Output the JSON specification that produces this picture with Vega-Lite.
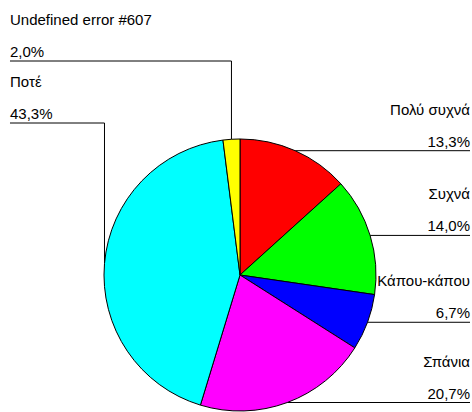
{
  "$schema": "https://vega.github.io/schema/vega-lite/v6.json",
  "width": 472,
  "height": 412,
  "autosize": "none",
  "padding": 0,
  "background": "white",
  "config": {"view": {"stroke": null}, "text": {"font": "Liberation Sans", "fontSize": 15, "fontWeight": "normal", "color": "black"}},
  "data": {"values": [
    {"cat": "Πολύ συχνά", "value": 13.3},
    {"cat": "Συχνά", "value": 14.0},
    {"cat": "Κάπου-κάπου", "value": 6.7},
    {"cat": "Σπάνια", "value": 20.7},
    {"cat": "Ποτέ", "value": 43.3},
    {"cat": "Undefined error #607", "value": 2.0}
  ]},
  "transform": [
    {"window": [{"op": "row_number", "as": "idx"}]},
    {"window": [{"op": "sum", "field": "value", "as": "cum"}], "sort": [{"field": "idx"}], "frame": [null, 0]},
    {"joinaggregate": [{"op": "sum", "field": "value", "as": "total"}]},
    {"calculate": "(datum.cum - datum.value / 2) / datum.total * 2 * PI", "as": "mid"},
    {"calculate": "sin(datum.mid)", "as": "ex"},
    {"calculate": "cos(datum.mid)", "as": "ey"},
    {"calculate": "datum.ex >= 0 ? 'R' : 'L'", "as": "side"},
    {"window": [{"op": "row_number", "as": "rk"}], "groupby": ["side"], "sort": [{"field": "idx", "order": "descending"}]},
    {"calculate": "datum.side == 'R' ? datum.ey : 1.5735 - (datum.rk - 1) * 0.4559", "as": "ly"},
    {"calculate": "datum.side == 'R' ? 1.6912 : -1.6912", "as": "xend"},
    {"calculate": "replace(format(datum.value, '.1f'), '.', ',') + '%'", "as": "pct"}
  ],
  "layer": [
    {
      "mark": {"type": "rule", "stroke": "black", "strokeWidth": 1},
      "encoding": {
        "x": {"field": "ex", "type": "quantitative", "scale": {"domain": [-1.7647, 1.7059], "nice": false, "zero": false}, "axis": null},
        "y": {"field": "ey", "type": "quantitative", "scale": {"domain": [-1.0074, 2.0221], "nice": false, "zero": false}, "axis": null},
        "y2": {"field": "ly"}
      }
    },
    {
      "mark": {"type": "rule", "stroke": "black", "strokeWidth": 1},
      "encoding": {
        "x": {"field": "xend", "type": "quantitative"},
        "x2": {"field": "ex"},
        "y": {"field": "ly", "type": "quantitative"}
      }
    },
    {
      "mark": {"type": "arc", "outerRadius": 136, "stroke": "black", "strokeWidth": 1},
      "encoding": {
        "x": {"datum": 0, "type": "quantitative"},
        "y": {"datum": 0, "type": "quantitative"},
        "theta": {"field": "value", "type": "quantitative", "stack": true},
        "order": {"field": "idx", "type": "quantitative"},
        "color": {"field": "cat", "type": "nominal", "legend": null,
          "scale": {"domain": ["Πολύ συχνά", "Συχνά", "Κάπου-κάπου", "Σπάνια", "Ποτέ", "Undefined error #607"],
                    "range": ["#FF0000", "#00FF00", "#0000FF", "#FF00FF", "#00FFFF", "#FFFF00"]}}
      }
    },
    {
      "transform": [{"filter": "datum.side == 'R'"}],
      "mark": {"type": "text", "align": "right", "dy": -41},
      "encoding": {"x": {"field": "xend", "type": "quantitative"}, "y": {"field": "ly", "type": "quantitative"}, "text": {"field": "cat"}}
    },
    {
      "transform": [{"filter": "datum.side == 'R'"}],
      "mark": {"type": "text", "align": "right", "dy": -9},
      "encoding": {"x": {"field": "xend", "type": "quantitative"}, "y": {"field": "ly", "type": "quantitative"}, "text": {"field": "pct"}}
    },
    {
      "transform": [{"filter": "datum.side == 'L'"}],
      "mark": {"type": "text", "align": "left", "dy": -41},
      "encoding": {"x": {"field": "xend", "type": "quantitative"}, "y": {"field": "ly", "type": "quantitative"}, "text": {"field": "cat"}}
    },
    {
      "transform": [{"filter": "datum.side == 'L'"}],
      "mark": {"type": "text", "align": "left", "dy": -9},
      "encoding": {"x": {"field": "xend", "type": "quantitative"}, "y": {"field": "ly", "type": "quantitative"}, "text": {"field": "pct"}}
    }
  ]
}
